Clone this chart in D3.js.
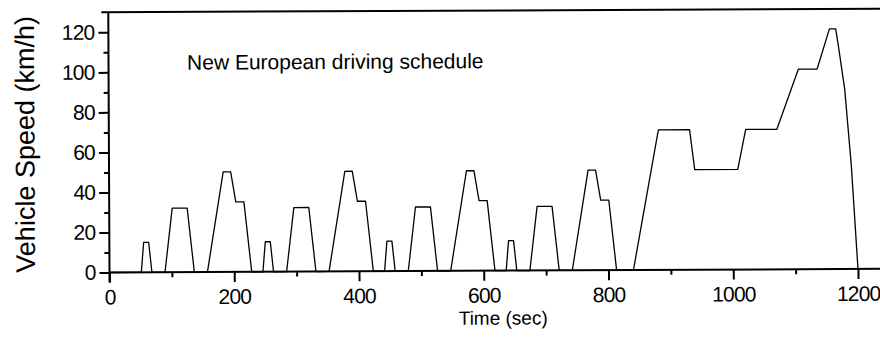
<!DOCTYPE html>
<html>
<head>
<meta charset="utf-8">
<script src="https://cdn.jsdelivr.net/npm/d3@7"></script>
<style>
    html, body { margin: 0; padding: 0; background: #fff; }
    svg text { font-family: "Liberation Sans", Arial, Helvetica, sans-serif; fill: #000; }
</style>
</head>
<body>
<div class="draw-area"></div>
<script>
// ---------------------------------------------------
// Data: NEDC speed trace (40 s idle, 4x ECE-15, EUDC)
// ---------------------------------------------------
const timeSec = [
    0, 51, 55, 63, 68, 89, 101, 125, 136, 157, 183, 195, 203, 216, 228,
    246, 250, 258, 263, 284, 296, 320, 331, 352, 378, 390, 398, 411, 423,
    441, 445, 453, 458, 479, 491, 515, 526, 547, 573, 585, 593, 606, 618,
    636, 640, 648, 653, 674, 686, 710, 721, 742, 768, 780, 788, 801, 813,
    840, 881, 931, 939, 1008, 1021, 1071, 1106, 1136, 1156, 1166, 1170, 1180, 1190, 1200
];
const speedKmh = [
    0, 0, 15, 15, 0, 0, 32, 32, 0, 0, 50, 50, 35, 35, 0,
    0, 15, 15, 0, 0, 32, 32, 0, 0, 50, 50, 35, 35, 0,
    0, 15, 15, 0, 0, 32, 32, 0, 0, 50, 50, 35, 35, 0,
    0, 15, 15, 0, 0, 32, 32, 0, 0, 50, 50, 35, 35, 0,
    0, 70, 70, 50, 50, 70, 70, 100, 100, 120, 120, 112, 90, 52, 0
];

const xTicks = [0, 200, 400, 600, 800, 1000, 1200];
const xMinorTicks = [100, 300, 500, 700, 900, 1100];
const yTicks = [0, 20, 40, 60, 80, 100, 120];
const yMinorTicks = [10, 30, 50, 70, 90, 110];

const width = 880, height = 337;

// Scales
const x = d3.scaleLinear().domain([0, 1200]).range([109.5, 858]);
const y = d3.scaleLinear().domain([0, 120]).range([272.5, 32.3]);

const svg = d3.select(".draw-area")
    .append("svg")
    .attr("width", width)
    .attr("height", height);

// whole figure sits slightly tilted, like the scanned original
const plot = svg.append("g")
    .attr("transform", `rotate(-0.27, ${x(0)}, ${y(0)})`);

// Frame lines (top border and bottom axis run to the right edge)
plot.append("line")
    .attr("x1", x(0) - 7).attr("x2", 900)
    .attr("y1", y(130)).attr("y2", y(130))
    .attr("stroke", "#000").attr("stroke-width", 2);

plot.append("line")
    .attr("x1", x(0)).attr("x2", 900)
    .attr("y1", y(0)).attr("y2", y(0))
    .attr("stroke", "#000").attr("stroke-width", 2);

plot.append("line")
    .attr("x1", x(0)).attr("x2", x(0))
    .attr("y1", y(130)).attr("y2", y(0) + 10)
    .attr("stroke", "#000").attr("stroke-width", 2);

// Axes
function styleAxis(g) {
    g.select(".domain").remove();
    g.selectAll(".tick line").attr("stroke", "#000").attr("stroke-width", 2);
}

const plainNum = d3.format("d");

plot.append("g")
    .attr("transform", `translate(${x(0)},0)`)
    .call(d3.axisLeft(y).tickValues(yTicks).tickFormat(plainNum).tickSize(10).tickPadding(4))
    .call(styleAxis)
    .call(g => g.selectAll("text")
        .attr("font-size", 21)
        .attr("letter-spacing", "-0.8px"));

plot.append("g")
    .attr("transform", `translate(${x(0)},0)`)
    .call(d3.axisLeft(y).tickValues(yMinorTicks).tickSize(5).tickFormat(""))
    .call(styleAxis);

plot.append("g")
    .attr("transform", `translate(0,${y(0)})`)
    .call(d3.axisBottom(x).tickValues(xTicks).tickFormat(plainNum).tickSize(10).tickPadding(7))
    .call(styleAxis)
    .call(g => g.selectAll("text")
        .attr("font-size", 21)
        .attr("letter-spacing", "-0.8px"));

plot.append("g")
    .attr("transform", `translate(0,${y(0)})`)
    .call(d3.axisBottom(x).tickValues(xMinorTicks).tickSize(5).tickFormat(""))
    .call(styleAxis);

// Axis titles
plot.append("text")
    .attr("x", 503).attr("y", 326.5)
    .attr("text-anchor", "middle")
    .attr("font-size", 19)
    .text("Time (sec)");

plot.append("text")
    .attr("transform", "translate(35,144) rotate(-90)")
    .attr("text-anchor", "middle")
    .attr("font-size", 27)
    .text("Vehicle Speed (km/h)");

// Annotation
plot.append("text")
    .attr("x", 188).attr("y", 70)
    .attr("font-size", 21)
    .text("New European driving schedule");

// Speed trace
const points = timeSec.map((t, i) => [t, speedKmh[i]]);
const line = d3.line()
    .x(d => x(d[0]))
    .y(d => y(d[1]));

plot.append("path")
    .datum(points)
    .attr("d", line)
    .attr("fill", "none")
    .attr("stroke", "#000")
    .attr("stroke-width", 1.3)
    .attr("stroke-linejoin", "round");
</script>
</body>
</html>
